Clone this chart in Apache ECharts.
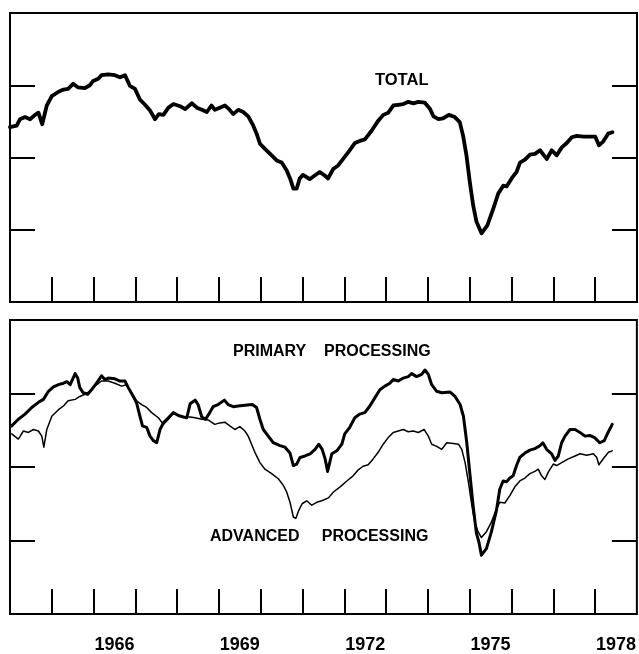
<!DOCTYPE html>
<html>
<head>
<meta charset="utf-8">
<script src="https://cdn.jsdelivr.net/npm/echarts@6/dist/echarts.min.js"></script>
<style>
html,body{margin:0;padding:0;background:#fff;}
#chart{width:639px;height:654px;}
</style>
</head>
<body>
<div id="chart"></div>
<script>
// ---- data (year as decimal, value as percent of capacity) ----
var yearTicks = [1965,1966,1967,1968,1969,1970,1971,1972,1973,1974,1975,1976,1977,1978];
var yearLabels = [1966,1969,1972,1975,1978];
var valueTicks = [70,80,90];

var totalYears = [1964.00,1964.16,1964.24,1964.36,1964.48,1964.60,1964.68,1964.77,1964.88,1965.00,1965.16,1965.28,1965.39,1965.51,1965.63,1965.79,1965.91,1965.99,1966.11,1966.19,1966.35,1966.51,1966.63,1966.75,1966.87,1966.99,1967.11,1967.23,1967.35,1967.47,1967.56,1967.67,1967.79,1967.91,1968.07,1968.19,1968.35,1968.47,1968.59,1968.71,1968.82,1968.90,1969.02,1969.14,1969.24,1969.34,1969.46,1969.58,1969.70,1969.82,1969.90,1969.98,1970.10,1970.26,1970.38,1970.50,1970.62,1970.70,1970.78,1970.86,1970.93,1971.01,1971.17,1971.29,1971.41,1971.53,1971.61,1971.73,1971.85,1971.97,1972.09,1972.25,1972.37,1972.49,1972.65,1972.81,1972.93,1973.05,1973.17,1973.29,1973.41,1973.53,1973.65,1973.77,1973.92,1974.05,1974.13,1974.25,1974.36,1974.50,1974.64,1974.76,1974.84,1974.92,1975.00,1975.08,1975.16,1975.28,1975.42,1975.56,1975.68,1975.80,1975.88,1976.00,1976.12,1976.20,1976.32,1976.44,1976.56,1976.68,1976.84,1976.96,1977.08,1977.20,1977.32,1977.44,1977.56,1977.72,1977.88,1978.00,1978.09,1978.19,1978.31,1978.41];
var totalValues = [84.2,84.4,85.3,85.6,85.3,85.9,86.2,84.6,87.2,88.5,89.1,89.4,89.5,90.2,89.7,89.6,90.0,90.6,90.9,91.4,91.5,91.4,91.1,91.4,89.9,89.5,88.0,87.3,86.5,85.3,86.0,85.9,86.9,87.4,87.1,86.7,87.5,86.9,86.6,86.3,87.2,86.6,86.9,87.2,86.7,86.0,86.6,86.3,85.7,84.4,83.3,81.9,81.2,80.3,79.6,79.3,78.2,77.1,75.7,75.7,77.1,77.6,77.0,77.5,78.0,77.5,77.1,78.4,78.9,79.8,80.7,82.0,82.3,82.5,83.7,85.1,85.9,86.2,87.2,87.3,87.4,87.7,87.5,87.7,87.6,86.7,85.7,85.3,85.4,85.9,85.6,84.9,83.0,80.3,76.6,73.4,71.1,69.5,70.6,72.9,75.0,76.1,76.0,77.1,78.0,79.3,79.7,80.4,80.5,81.0,79.8,81.0,80.3,81.4,82.0,82.8,83.0,82.9,82.9,82.9,81.7,82.2,83.3,83.5];

var primaryYears = [1964.04,1964.20,1964.36,1964.52,1964.68,1964.80,1964.92,1965.04,1965.16,1965.28,1965.36,1965.44,1965.51,1965.56,1965.62,1965.67,1965.75,1965.86,1965.95,1966.07,1966.19,1966.27,1966.35,1966.51,1966.63,1966.75,1966.83,1966.95,1967.03,1967.11,1967.17,1967.27,1967.35,1967.43,1967.51,1967.59,1967.67,1967.79,1967.91,1968.03,1968.15,1968.23,1968.31,1968.43,1968.50,1968.59,1968.68,1968.78,1968.86,1968.98,1969.13,1969.22,1969.34,1969.46,1969.62,1969.80,1969.90,1969.98,1970.06,1970.18,1970.30,1970.46,1970.58,1970.70,1970.78,1970.86,1970.94,1971.06,1971.18,1971.30,1971.39,1971.47,1971.54,1971.60,1971.70,1971.82,1971.94,1972.01,1972.13,1972.25,1972.37,1972.49,1972.61,1972.73,1972.85,1972.97,1973.09,1973.17,1973.29,1973.41,1973.53,1973.61,1973.73,1973.85,1973.93,1974.01,1974.09,1974.21,1974.33,1974.53,1974.65,1974.77,1974.85,1974.93,1975.00,1975.08,1975.16,1975.22,1975.28,1975.40,1975.52,1975.64,1975.72,1975.80,1975.88,1975.96,1976.04,1976.12,1976.20,1976.32,1976.44,1976.56,1976.68,1976.75,1976.84,1976.96,1977.04,1977.12,1977.20,1977.28,1977.40,1977.52,1977.64,1977.76,1977.87,1977.99,1978.11,1978.22,1978.31,1978.41];
var primaryValues = [85.6,86.5,87.2,88.1,88.8,89.2,90.3,90.9,91.2,91.4,91.6,91.2,92.1,92.7,92.1,90.8,90.1,89.9,90.5,91.4,92.4,91.9,92.1,92.0,91.7,91.7,90.8,89.6,88.7,86.9,85.6,85.4,84.2,83.6,83.3,85.1,86.0,86.7,87.4,87.0,86.8,86.7,88.6,89.1,88.5,86.8,86.5,87.4,88.2,88.5,89.1,88.5,88.2,88.3,88.4,88.5,88.1,86.5,85.1,84.2,83.3,82.9,82.7,81.9,80.2,80.4,81.3,81.5,81.8,82.4,83.1,82.4,81.1,79.4,81.8,82.2,83.1,84.5,85.4,86.7,87.2,87.4,88.3,89.4,90.5,91.0,91.4,91.9,91.7,92.1,92.3,92.7,92.3,92.6,93.2,92.6,91.2,90.3,90.1,90.2,89.6,88.5,86.9,83.3,79.3,74.8,71.0,69.8,68.0,68.9,71.2,74.1,77.0,78.1,78.0,78.5,78.8,80.2,81.3,81.9,82.3,82.5,82.9,83.3,82.4,81.8,80.9,81.5,83.3,84.2,85.1,85.1,84.7,84.2,84.3,84.0,83.3,83.6,84.7,85.8];

var advancedYears = [1964.04,1964.20,1964.32,1964.44,1964.56,1964.68,1964.76,1964.81,1964.88,1965.00,1965.16,1965.28,1965.39,1965.56,1965.67,1965.79,1965.91,1966.03,1966.19,1966.35,1966.51,1966.67,1966.79,1966.91,1967.03,1967.15,1967.27,1967.39,1967.55,1967.67,1967.79,1967.91,1968.03,1968.15,1968.31,1968.43,1968.59,1968.74,1968.90,1969.02,1969.14,1969.26,1969.38,1969.50,1969.62,1969.70,1969.78,1969.86,1969.98,1970.10,1970.26,1970.42,1970.54,1970.62,1970.70,1970.78,1970.84,1970.91,1970.99,1971.10,1971.22,1971.34,1971.46,1971.62,1971.74,1971.90,1972.06,1972.21,1972.33,1972.45,1972.57,1972.69,1972.81,1972.93,1973.05,1973.17,1973.29,1973.41,1973.53,1973.65,1973.77,1973.91,1974.01,1974.09,1974.21,1974.33,1974.45,1974.61,1974.73,1974.81,1974.89,1974.97,1975.05,1975.12,1975.20,1975.28,1975.40,1975.52,1975.64,1975.72,1975.84,1975.96,1976.08,1976.20,1976.32,1976.44,1976.56,1976.64,1976.72,1976.80,1976.88,1977.00,1977.08,1977.20,1977.36,1977.52,1977.64,1977.80,1977.96,1978.04,1978.09,1978.22,1978.32,1978.41];
var advancedValues = [84.5,83.8,84.9,84.7,85.1,84.9,84.2,82.7,85.1,86.9,87.8,88.3,89.0,89.2,89.6,89.9,90.3,91.0,91.7,91.7,91.4,91.0,91.2,90.1,89.0,88.5,88.1,87.4,86.7,85.8,86.5,87.3,87.0,86.8,86.8,86.7,86.5,86.4,85.8,86.0,86.1,85.6,85.1,85.5,84.9,84.2,83.1,82.0,80.6,79.7,79.1,78.4,77.5,76.6,75.2,73.2,73.0,74.1,75.0,75.4,74.8,75.2,75.4,75.8,76.6,77.3,78.1,78.8,79.6,80.1,80.3,81.1,82.0,83.1,84.0,84.7,84.9,85.1,84.8,84.9,84.7,85.1,84.2,83.1,82.8,82.4,83.3,83.2,83.1,82.4,80.6,77.9,74.8,72.5,71.2,70.4,71.2,72.5,74.3,75.2,75.1,76.1,77.3,78.1,78.5,79.1,79.4,79.7,78.8,78.3,79.3,80.4,80.2,80.6,81.1,81.5,81.8,81.6,81.8,81.3,80.3,81.3,82.0,82.2];

function zip(xs, ys){ return xs.map(function(x,i){ return [x, ys[i]]; }); }

var chart = echarts.init(document.getElementById('chart'), null, {renderer:'canvas'});
var FONT = '"Liberation Sans", Arial, Helvetica, sans-serif';
var tickStyle = {color:'#000', width:2};

function xAx(gridIndex, withLabels){
  return {
    type:'value', gridIndex:gridIndex, min:1964, max:1979,
    axisLine:{show:false},
    splitLine:{show:false},
    axisTick:{show:true, inside:true, length:25, lineStyle:tickStyle, customValues:yearTicks},
    axisLabel: withLabels ? {
      show:true, customValues: yearLabels.map(function(y){return y+0.5;}),
      formatter:function(v){ return String(Math.floor(v)); },
      margin:22, color:'#000', fontFamily:FONT, fontWeight:'bold', fontSize:18
    } : {show:false}
  };
}
function yAx(gridIndex, pos){
  return {
    type:'value', gridIndex:gridIndex, min:60, max:100, position:pos,
    axisLine:{show:false},
    splitLine:{show:false},
    axisTick:{show:true, inside:true, length:25, lineStyle:tickStyle, customValues:valueTicks},
    axisLabel:{show:false}
  };
}

var option = {
  animation:false,
  backgroundColor:'#fff',
  grid:[
    {left:10, top:13, width:627, height:289, show:true, borderColor:'#000', borderWidth:2, backgroundColor:'transparent'},
    {left:10, top:320, width:627, height:295, show:true, borderColor:'#000', borderWidth:2, backgroundColor:'transparent'}
  ],
  xAxis:[xAx(0,false), xAx(1,true)],
  yAxis:[yAx(0,'left'), yAx(0,'right'), yAx(1,'left'), yAx(1,'right')],
  series:[
    {type:'line', name:'TOTAL', xAxisIndex:0, yAxisIndex:0, data:zip(totalYears,totalValues), symbol:'none',
     lineStyle:{color:'#000', width:3.8, join:'round', cap:'round'}},
    {type:'line', name:'PRIMARY PROCESSING', xAxisIndex:1, yAxisIndex:2, data:zip(primaryYears,primaryValues), symbol:'none',
     lineStyle:{color:'#000', width:3, join:'round', cap:'round'}},
    {type:'line', name:'ADVANCED PROCESSING', xAxisIndex:1, yAxisIndex:2, data:zip(advancedYears,advancedValues), symbol:'none',
     lineStyle:{color:'#000', width:1.5, join:'round', cap:'round'}}
  ],
  graphic:[
    {type:'text', left:375, top:72, style:{text:'TOTAL', fill:'#000', font:'bold 16.5px '+FONT}},
    {type:'text', left:233, top:344, style:{text:'PRIMARY    PROCESSING', fill:'#000', font:'bold 16px '+FONT}},
    {type:'text', left:210, top:529, style:{text:'ADVANCED     PROCESSING', fill:'#000', font:'bold 16px '+FONT}}
  ]
};
chart.setOption(option);
</script>
</body>
</html>
